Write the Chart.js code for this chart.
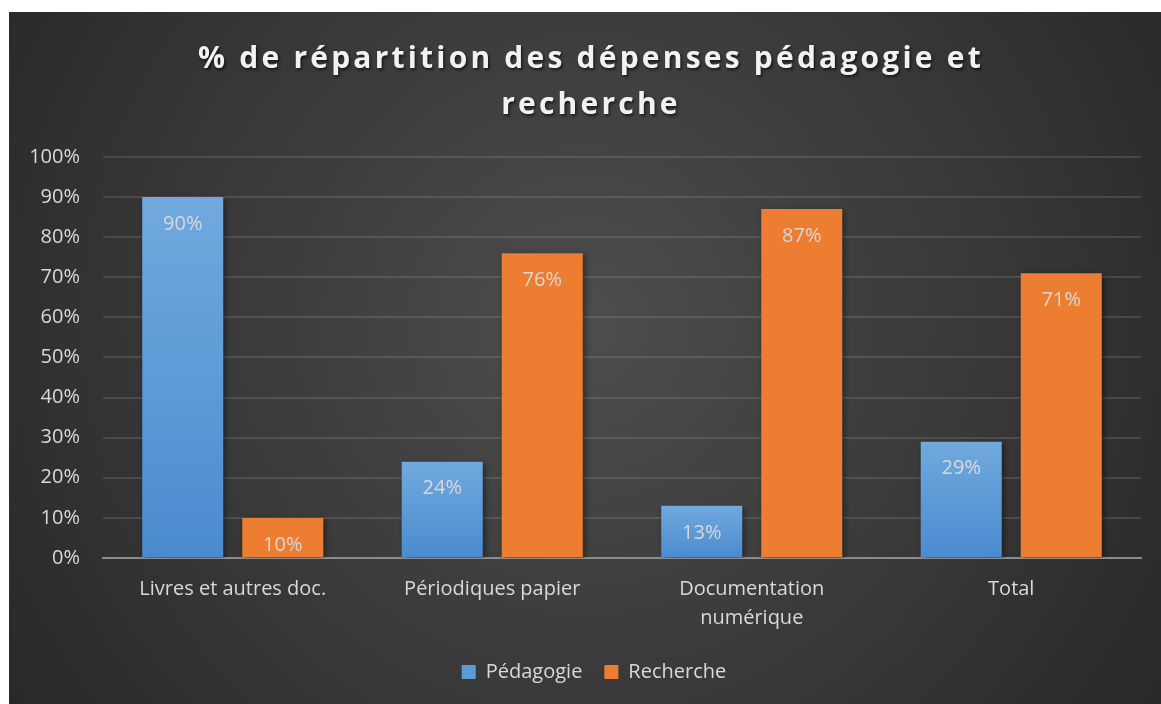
<!DOCTYPE html>
<html>
<head>
<meta charset="utf-8">
<script src="https://cdn.jsdelivr.net/npm/chart.js@4.4.1/dist/chart.umd.min.js"></script>
<style>
  html, body { margin: 0; padding: 0; background: #ffffff; }
  #wrap { position: absolute; left: 9px; top: 12px; width: 1152px; height: 692px; }
</style>
</head>
<body>
<div id="wrap"><canvas id="c"></canvas></div>
<script>
const categories = ['Livres et autres doc.', 'Périodiques papier', ['Documentation', 'numérique'], 'Total'];
const seriesNames = ['Pédagogie', 'Recherche'];
const pedagogie = [90, 24, 13, 29];
const recherche = [10, 76, 87, 71];
const yTicks = [0, 10, 20, 30, 40, 50, 60, 70, 80, 90, 100];
const titleLines = ['% de répartition des dépenses pédagogie et', 'recherche'];

const FONT = '"Open Sans", "Noto Sans", sans-serif';
const TEXT = '#d9d9d9';

function blueGradient(ctx) {
  const chart = ctx.chart;
  const area = chart.chartArea;
  if (!area || ctx.type !== 'data') return '#5b9bd5';
  const y = chart.scales.y;
  const top = y.getPixelForValue(ctx.raw);
  const bottom = y.getPixelForValue(0);
  const g = chart.ctx.createLinearGradient(0, top, 0, bottom);
  g.addColorStop(0, '#71a9de');
  g.addColorStop(1, '#4a8bcf');
  return g;
}

const bgPlugin = {
  id: 'bg',
  beforeDraw(chart) {
    const { ctx, width, height } = chart;
    ctx.save();
    const g = ctx.createRadialGradient(width * 0.5, height * 0.45, 0, width * 0.5, height * 0.45, Math.hypot(width, height) * 0.55);
    g.addColorStop(0, '#4d4d4d');
    g.addColorStop(1, '#262626');
    ctx.fillStyle = g;
    ctx.fillRect(0, 0, width, height);
    ctx.restore();
  }
};

const boxTweaks = {
  id: 'boxTweaks',
  afterInit(chart) {
    const tb = chart.titleBlock;
    if (tb) {
      const orig = tb.draw;
      tb.draw = function () {
        const ctx = chart.ctx;
        ctx.save();
        ctx.translate(16, 0);
        ctx.letterSpacing = '3.2px';
        ctx.shadowColor = 'rgba(0,0,0,0.6)';
        ctx.shadowOffsetX = 1.5;
        ctx.shadowOffsetY = 2;
        ctx.shadowBlur = 3;
        orig.apply(this, arguments);
        ctx.restore();
      };
    }
    const lg = chart.legend;
    if (lg) {
      const origL = lg.draw;
      lg.draw = function () {
        const ctx = chart.ctx;
        ctx.save();
        ctx.translate(19, 0);
        origL.apply(this, arguments);
        ctx.restore();
      };
    }
  }
};

const barShadow = {
  id: 'barShadow',
  beforeDatasetDraw(chart) {
    const ctx = chart.ctx;
    ctx.save();
    ctx.shadowColor = 'rgba(0,0,0,0.45)';
    ctx.shadowBlur = 6;
    ctx.shadowOffsetX = 2;
    ctx.shadowOffsetY = 2;
  },
  afterDatasetDraw(chart) {
    chart.ctx.restore();
  }
};

const valueLabels = {
  id: 'valueLabels',
  afterDatasetsDraw(chart) {
    const ctx = chart.ctx;
    ctx.save();
    ctx.font = '20px ' + FONT;
    ctx.fillStyle = TEXT;
    ctx.textAlign = 'center';
    ctx.textBaseline = 'middle';
    chart.data.datasets.forEach((ds, di) => {
      const meta = chart.getDatasetMeta(di);
      meta.data.forEach((bar, i) => {
        ctx.fillText(ds.data[i] + '%', bar.x, bar.y + 27);
      });
    });
    ctx.restore();
  }
};

new Chart(document.getElementById('c'), {
  type: 'bar',
  data: {
    labels: categories,
    datasets: [
      { label: seriesNames[0], data: pedagogie, backgroundColor: blueGradient, borderWidth: 0 },
      { label: seriesNames[1], data: recherche, backgroundColor: '#ed7d31', borderWidth: 0 }
    ]
  },
  options: {
    responsive: true,
    maintainAspectRatio: false,
    animation: false,
    devicePixelRatio: 1,
    layout: { padding: { left: 0, right: 20, top: 0, bottom: 12 } },
    datasets: { bar: { categoryPercentage: 0.771, barPercentage: 0.81 } },
    plugins: {
      title: {
        display: true,
        text: titleLines,
        color: '#f2f2f2',
        font: { family: FONT, size: 30, weight: 'bold', lineHeight: 1.533 },
        padding: { top: 24, bottom: 29 }
      },
      legend: {
        display: true,
        position: 'bottom',
        labels: {
          color: TEXT,
          font: { family: FONT, size: 20 },
          boxWidth: 14,
          boxHeight: 14,
          padding: 22,
          generateLabels(chart) {
            return chart.data.datasets.map((ds, i) => ({
              text: ds.label,
              fillStyle: i === 0 ? '#5b9bd5' : '#ed7d31',
              strokeStyle: 'transparent',
              lineWidth: 0,
              fontColor: TEXT,
              datasetIndex: i,
              hidden: false
            }));
          }
        }
      },
      tooltip: { enabled: false }
    },
    scales: {
      x: {
        afterFit(scale) { scale.height -= 10; },
        grid: { display: false, drawTicks: false },
        border: { display: true, color: '#8c8c8c', width: 2 },
        ticks: { color: TEXT, font: { family: FONT, size: 20, lineHeight: 1.45 }, padding: 17, maxRotation: 0, autoSkip: false }
      },
      y: {
        min: 0, max: 100,
        afterFit(scale) { scale.width = 94; },
        afterBuildTicks(scale) { scale.ticks = yTicks.map(v => ({ value: v })); },
        grid: { color: 'rgba(217,217,217,0.14)', lineWidth: 2, drawTicks: false },
        border: { display: false },
        ticks: { color: TEXT, font: { family: FONT, size: 20 }, padding: 23, callback: v => v + '%' }
      }
    }
  },
  plugins: [bgPlugin, boxTweaks, barShadow, valueLabels]
});
</script>
</body>
</html>
